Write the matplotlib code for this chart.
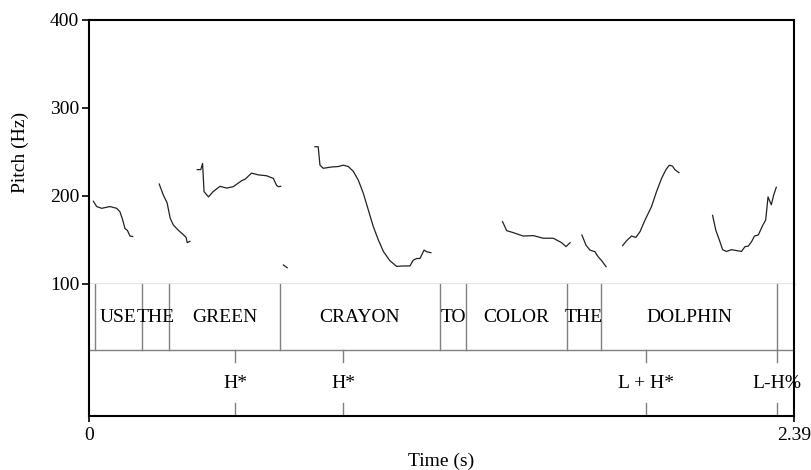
import matplotlib
matplotlib.use("Agg")
import matplotlib.pyplot as plt

plt.rcParams['font.family'] = ['Liberation Serif', 'DejaVu Serif']

# pitch contour segments (time s, F0 Hz)
seg_use = ([0.015, 0.026, 0.043, 0.071, 0.094, 0.105, 0.114, 0.122, 0.130, 0.139, 0.148],
           [194, 188, 186, 188, 186, 182, 173, 163, 161, 154.5, 154])
seg_the1 = ([0.238, 0.252, 0.265, 0.275, 0.286, 0.303, 0.320, 0.329, 0.333, 0.342],
            [213.6, 201, 192, 175, 167, 161, 156, 153, 147, 148.5])
seg_green = ([0.367, 0.379, 0.385, 0.390, 0.405, 0.421, 0.444, 0.467, 0.489, 0.518, 0.529,
              0.551, 0.574, 0.602, 0.625, 0.636, 0.642, 0.650],
             [230, 230, 237, 205, 199, 205, 211, 209, 210.6, 217.5, 219,
              226, 224, 223, 220, 212, 210.6, 211])
seg_blip = ([0.659, 0.672], [121.6, 118.5])
seg_crayon = ([0.766, 0.777, 0.783, 0.794, 0.823, 0.845, 0.862, 0.879, 0.896, 0.913, 0.930,
               0.947, 0.964, 0.981, 0.998, 1.020, 1.043, 1.065, 1.088, 1.099, 1.111, 1.122,
               1.136, 1.144, 1.159],
              [256, 256, 235, 231.5, 233, 233.5, 235, 233.5, 228, 218, 203,
               184, 165, 150, 137, 126.5, 120, 120.5, 120.5, 127, 129, 129,
               138.6, 136.7, 135.6])
seg_color = ([1.402, 1.416, 1.438, 1.472, 1.506, 1.540, 1.574, 1.602, 1.617, 1.631],
             [170.8, 160.6, 158.4, 154.5, 155, 152, 152, 147, 142.5, 147])
seg_the2 = ([1.671, 1.685, 1.698, 1.715, 1.726, 1.738, 1.753],
            [155.7, 144, 138.6, 136.7, 131, 126.5, 119.7])
seg_dolphin = ([1.809, 1.822, 1.839, 1.854, 1.868, 1.885, 1.907, 1.924, 1.941, 1.956, 1.967,
                1.978, 1.986, 2.000],
               [143.6, 149, 154.5, 153, 159.5, 172.7, 188, 205, 220, 230, 235,
                234, 230, 226.5])
seg_final = ([2.114, 2.125, 2.139, 2.148, 2.161, 2.178, 2.195, 2.212, 2.224, 2.235, 2.246,
              2.256, 2.269, 2.283, 2.294, 2.302, 2.313, 2.321, 2.330],
             [178, 161, 148, 139, 137, 139, 138, 137, 142.5, 143, 148,
              154.5, 155.7, 166, 172.7, 199, 190, 201, 210])
segments = [seg_use, seg_the1, seg_green, seg_blip, seg_crayon,
            seg_color, seg_the2, seg_dolphin, seg_final]

# word tier
word_bounds = [0.020, 0.180, 0.271, 0.647, 1.190, 1.278, 1.620, 1.736, 2.332]
words = ["USE", "THE", "GREEN", "CRAYON", "TO", "COLOR", "THE", "DOLPHIN"]

# tone tier
tone_times = [0.495, 0.861, 1.888, 2.332]
tones = ["H*", "H*", "L + H*", "L-H%"]

t_end = 2.39
fs = 14
grey = "#808080"

fig = plt.figure(figsize=(8.11, 4.70), dpi=100)
left, right = 89 / 811, 794 / 811
ax = fig.add_axes([left, 1 - 284 / 470, right - left, 264 / 470])
ax_t = fig.add_axes([left, 1 - 416 / 470, right - left, 132 / 470], sharex=ax)

for tt, ff in segments:
    ax.plot(tt, ff, color="#222222", lw=0.9)

ax.set_xlim(0, t_end)
ax.set_ylim(100, 400)
ax.set_yticks([100, 200, 300, 400])
ax.tick_params(axis="y", direction="out", length=5, width=1.2, labelsize=fs, pad=2)
ax.tick_params(axis="x", bottom=False, labelbottom=False)
for s in ["left", "top", "right"]:
    ax.spines[s].set_linewidth(1.5)
    ax.spines[s].set_color("black")
ax.spines["bottom"].set_color(grey)
ax.spines["bottom"].set_linewidth(1.0)
ax.set_ylabel("Pitch (Hz)", fontsize=fs, labelpad=15)

# tiers: y 0-1 tone tier, 1-2 word tier
ax_t.set_ylim(0, 2)
ax_t.set_yticks([])
ax_t.spines["top"].set_visible(False)
for s in ["left", "bottom", "right"]:
    ax_t.spines[s].set_linewidth(1.5)
    ax_t.spines[s].set_color("black")
ax_t.axhline(1, color=grey, lw=1.0)

for b in word_bounds:
    ax_t.plot([b, b], [1, 2], color=grey, lw=1.0)
for i, w in enumerate(words):
    mid = (word_bounds[i] + word_bounds[i + 1]) / 2
    ax_t.text(mid, 1.5, w, ha="center", va="center", fontsize=fs)

for tm, lab in zip(tone_times, tones):
    ax_t.plot([tm, tm], [1, 0.82], color=grey, lw=1.0)
    ax_t.plot([tm, tm], [0, 0.2], color=grey, lw=1.0)
    ax_t.text(tm, 0.5, lab, ha="center", va="center", fontsize=fs)

ax_t.set_xticks([0, t_end])
ax_t.set_xticklabels(["0", "2.39"])
ax_t.tick_params(axis="x", direction="out", length=4, width=1.2, labelsize=fs, pad=4)
ax_t.set_xlabel("Time (s)", fontsize=fs, labelpad=6)

fig.savefig("out.png", dpi=100)
